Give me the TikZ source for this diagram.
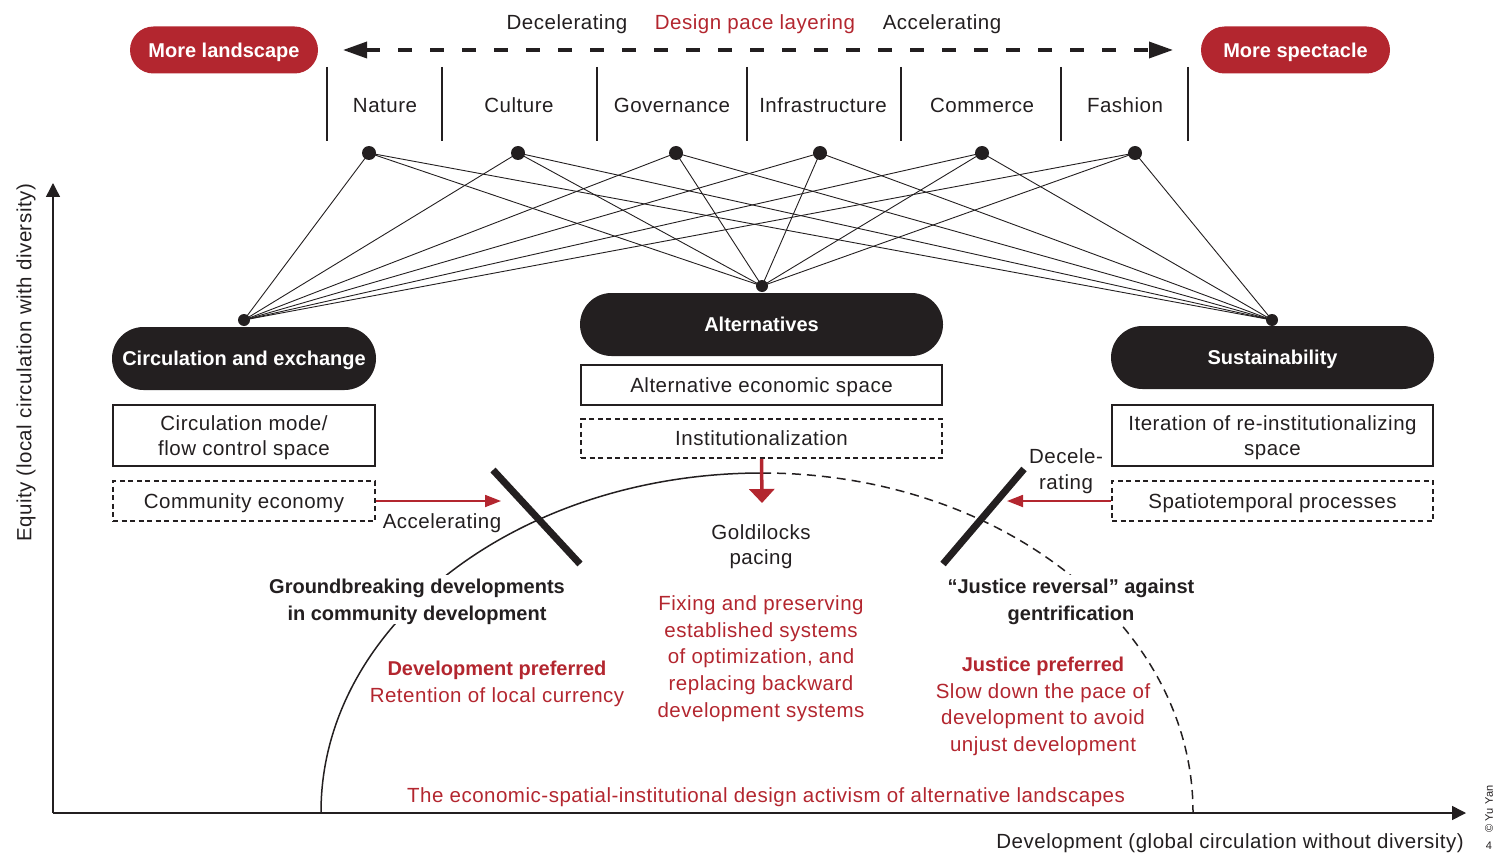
\documentclass[tikz,border=0pt]{standalone}
\usepackage{fontspec}
\setmainfont{Liberation Sans}[LetterSpace=2.5, BoldFeatures={LetterSpace=0}]
\usetikzlibrary{arrows.meta}
\definecolor{ink}{HTML}{231F20}
\definecolor{accent}{HTML}{B3262F}
\begin{document}
\begin{tikzpicture}[x=1pt,y=-1pt,
 every node/.style={font=\fontsize{20.5}{26.7}\selectfont, text=ink, inner sep=0pt, text depth=0pt},
 btxt/.style={font=\bfseries\fontsize{20}{27}\selectfont},
 redpill/.style={fill=accent, text=white, font=\bfseries\fontsize{20}{24}\selectfont, rounded corners=23.5pt, minimum width=188pt, minimum height=47pt},
 blackpill/.style={fill=ink, text=white, font=\bfseries\fontsize{20}{24}\selectfont, rounded corners=31.5pt, minimum height=63pt},
 solidbox/.style={draw=ink, line width=2.2pt, align=center, font=\fontsize{20.5}{25}\selectfont},
 dashbox/.style={draw=ink, line width=1.8pt, dash pattern=on 5pt off 3.5pt, align=center},
 dot/.style={circle, fill=ink, minimum size=14pt},
 hub/.style={circle, fill=ink, minimum size=12pt},
 sepline/.style={draw=ink, line width=2.5pt},
 link/.style={draw=ink, line width=0.9pt},
 redarrow/.style={draw=accent, line width=1.8pt, -{Triangle[length=16pt,width=12pt]}},
 barline/.style={draw=ink, line width=7pt},
 mask/.style={fill=white, inner xsep=2pt, inner ysep=4pt},
]
\useasboundingbox (0,0) rectangle (1493,853);

% header
\node[redpill] (ml) at (224,50) {More landscape};
\node[redpill, minimum width=189pt] (ms) at (1295.5,50) {More spectacle};
\node (dec) at (567,22) {Decelerating};
\node[text=accent] (dpl) at (755,22) {Design pace layering};
\node (acc) at (942,22) {Accelerating};
\coordinate (al) at (343,50);
\coordinate (ar) at (1173,50);
\draw[ink, line width=3.5pt, dash pattern=on 14pt off 18pt, {Triangle[length=24pt,width=16pt]}-{Triangle[length=24pt,width=16pt]}] (al) -- (ar);

\foreach \x in {327,442,597,747,901,1061,1188} \draw[sepline] (\x,67) -- (\x,141);
\node (c1) at (385,105) {Nature};
\node (c2) at (519,105) {Culture};
\node (c3) at (672,105) {Governance};
\node (c4) at (823,105) {Infrastructure};
\node (c5) at (982,105) {Commerce};
\node (c6) at (1125,105) {Fashion};

% dots and hubs
\node[dot] (d1) at (369,153) {};
\node[dot] (d2) at (518,153) {};
\node[dot] (d3) at (676,153) {};
\node[dot] (d4) at (820,153) {};
\node[dot] (d5) at (982,153) {};
\node[dot] (d6) at (1135,153) {};
\node[hub] (h1) at (244,320) {};
\node[hub] (h2) at (762,286) {};
\node[hub] (h3) at (1272,320) {};
\foreach \i in {1,...,6} \foreach \j in {1,2,3} \draw[link] (d\i.center) -- (h\j.center);

% pills
\node[blackpill, minimum width=264pt] (ce) at (244,358.5) {Circulation and exchange};
\node[blackpill, minimum width=363pt] (alt) at (761.5,324.5) {Alternatives};
\node[blackpill, minimum width=323pt] (sus) at (1272.5,357.5) {Sustainability};

% boxes
\node[solidbox, minimum width=262pt, minimum height=61pt] (cm) at (244,435.5) {Circulation mode/\\flow control space};
\node[dashbox, minimum width=262pt, minimum height=40pt] (cec) at (244,501) {Community economy};
\node[solidbox, minimum width=361pt, minimum height=40pt] (aes) at (761.5,385) {Alternative economic space};
\node[dashbox, minimum width=361pt, minimum height=39pt] (inst) at (761.5,438.5) {Institutionalization};
\node[solidbox, minimum width=321pt, minimum height=61pt] (it) at (1272.5,435.5) {Iteration of re-institutionalizing\\space};
\node[dashbox, minimum width=321pt, minimum height=40pt] (sp) at (1272.5,501) {Spatiotemporal processes};

% curve
\draw[ink, line width=1.5pt] (321,812) arc[start angle=180,end angle=270,x radius=441,y radius=339];
\draw[ink, line width=1.5pt, dash pattern=on 9pt off 6pt] (762,473) arc[start angle=270,end angle=360,x radius=431,y radius=339];

% arrows and bars
\coordinate (acct) at (501,501);
\draw[redarrow] (cec.east) -- (acct);
\node (acclbl) at (442,521) {Accelerating};
\coordinate (dect) at (1007,501);
\draw[redarrow] (sp.west) -- (dect);
\node[align=center] (declbl) at (1066,469) {Decele-\\rating};
\coordinate (gp) at (762,503);
\draw[accent, line width=3.5pt, -{Triangle[length=14pt,width=25pt]}] (inst.south) -- (gp);
\draw[barline] (493,470) -- (580,564);
\draw[barline] (1024,469) -- (943,564);

% axes
\coordinate (o) at (53,813);
\coordinate (yt) at (53,183);
\coordinate (xt) at (1466,813);
\draw[ink, line width=1.5pt, -{Triangle[length=14pt,width=14pt]}] (o) -- (yt);
\draw[ink, line width=1.5pt, -{Triangle[length=14pt,width=14pt]}] (o) -- (xt);
\node[rotate=90] (ylbl) at (24,363) {Equity (local circulation with diversity)};
\node[anchor=east] (xlbl) at (1464,841) {Development (global circulation without diversity)};
\node[rotate=90, font=\fontsize{11}{13}\selectfont] (cr) at (1489,809) {© Yu Yan};
\node[font=\fontsize{11}{13}\selectfont] (pg) at (1489,846) {4};

% texts
\node[btxt, align=center, mask] (gb) at (417,599.5) {Groundbreaking developments\\in community development};
\node[btxt, text=accent] (dp) at (497,668) {Development preferred};
\node[text=accent] (rl) at (497,695) {Retention of local currency};
\node[align=center, font=\fontsize{20.5}{25}\selectfont] (gold) at (761,544.5) {Goldilocks\\pacing};
\node[text=accent, align=center] (fix) at (761,656.5) {Fixing and preserving\\established systems\\of optimization, and\\replacing backward\\development systems};
\node[btxt, align=center, mask] (jr) at (1071,599.5) {“Justice reversal” against\\gentrification};
\node[btxt, text=accent] (jp) at (1043,664) {Justice preferred};
\node[text=accent, align=center] (slow) at (1043,717.5) {Slow down the pace of\\development to avoid\\unjust development};
\node[text=accent] (econ) at (766,795) {The economic-spatial-institutional design activism of alternative landscapes};
\end{tikzpicture}
\end{document}
